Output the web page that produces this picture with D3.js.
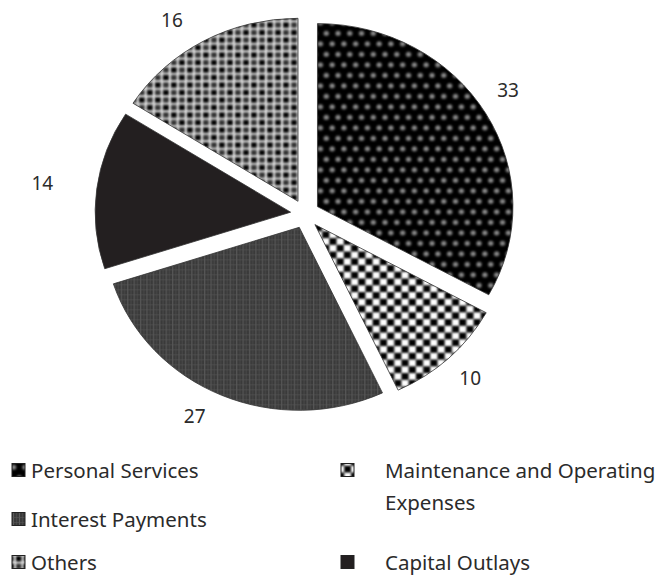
<!DOCTYPE html>
<html>
<head>
<meta charset="utf-8">
<script src="https://cdn.jsdelivr.net/npm/d3@7/dist/d3.min.js"></script>
<style>
  html, body { margin: 0; padding: 0; background: #fff; }
  svg { display: block; }
  text { font-family: "Noto Sans", "Open Sans", sans-serif; fill: #2b2b2b; }
</style>
</head>
<body>
<svg id="chart" width="668" height="578"></svg>
<script>
// Expenditure shares (percent), clockwise from 12 o'clock
const categories = [
  "Personal Services",
  "Maintenance and Operating Expenses",
  "Interest Payments",
  "Capital Outlays",
  "Others"
];
const values = [33, 10, 27, 14, 16];
const fillKeys = ["ps", "mo", "ip", "co", "ot"];

// Legend arrangement: [category index, column, row]
const legendSlots = [[0, 0, 0], [1, 1, 0], [2, 0, 1], [4, 0, 2], [3, 1, 2]];

// ---- layout ----
const W = 668, H = 578;
const cx = 305, cy = 214;
const radius = 183, stretchX = 1.068;
const explode = 14.5;
const labelDist = 218;
const labelNudge = {
  "Personal Services": [3, -6],
  "Maintenance and Operating Expenses": [6, -5],
  "Interest Payments": [-18, -11],
  "Capital Outlays": [-32, -2],
  "Others": [-21, 10]
};

const svg = d3.select("#chart");
const defs = svg.append("defs");

// Tiled fills; each tile is drawn with its neighbours so blurred edges wrap cleanly
function tile(id, w, h, bg, blur, draw) {
  const p = defs.append("pattern")
    .attr("id", id).attr("patternUnits", "userSpaceOnUse")
    .attr("width", w).attr("height", h);
  p.append("rect").attr("width", w).attr("height", h).attr("fill", bg);
  const f = defs.append("filter").attr("id", id + "-soft")
    .attr("filterUnits", "userSpaceOnUse")
    .attr("x", -w * 2).attr("y", -h * 2).attr("width", w * 5).attr("height", h * 5);
  f.append("feGaussianBlur").attr("stdDeviation", blur);
  const g = p.append("g").attr("filter", blur > 0 ? `url(#${id}-soft)` : null);
  for (const ox of [-w, 0, w]) for (const oy of [-h, 0, h]) {
    draw(g.append("g").attr("transform", `translate(${ox},${oy})`));
  }
}

// Personal Services: grey dots on black
tile("ps", 11, 21, "#000", 1.1, g => {
  [[2.75, 5.25], [8.25, 15.75]].forEach(([x, y]) =>
    g.append("circle").attr("cx", x).attr("cy", y).attr("r", 2.5).attr("fill", "#8c8c8c"));
});
// Maintenance and Operating Expenses: black/white checkerboard
tile("mo", 13.5, 13.5, "#fff", 0.9, g => {
  g.append("rect").attr("x", 0).attr("y", 0).attr("width", 6.75).attr("height", 6.75).attr("fill", "#000");
  g.append("rect").attr("x", 6.75).attr("y", 6.75).attr("width", 6.75).attr("height", 6.75).attr("fill", "#000");
});
// Interest Payments: dark grey with fine stripes
tile("ip", 6, 5, "#3a3a3a", 0.3, g => {
  g.append("rect").attr("x", 1).attr("y", 0).attr("width", 1).attr("height", 5).attr("fill", "#5c5c5c");
  g.append("rect").attr("x", 4).attr("y", 0).attr("width", 0.8).attr("height", 5).attr("fill", "#4c4c4c");
  g.append("rect").attr("x", 0).attr("y", 2).attr("width", 6).attr("height", 1).attr("fill", "#555").attr("opacity", 0.6);
});
// Others: plaid of dark squares between light lines
tile("ot", 15, 15, "#ececec", 0.8, g => {
  [[1, 1, "#000"], [8.5, 8.5, "#000"], [8.5, 1, "#333"], [1, 8.5, "#333"]].forEach(([x, y, c]) =>
    g.append("rect").attr("x", x).attr("y", y).attr("width", 5.5).attr("height", 5.5).attr("fill", c));
});

const fills = { ps: "url(#ps)", mo: "url(#mo)", ip: "url(#ip)", co: "#231f20", ot: "url(#ot)" };

const data = categories.map((c, i) => ({ category: c, value: values[i], key: fillKeys[i] }));
const pie = d3.pie().sort(null).value(d => d.value);
const arc = d3.arc().innerRadius(0).outerRadius(radius);
const arcs = pie(data);

const slices = svg.append("g").selectAll("g.slice").data(arcs).join("g")
  .attr("class", "slice")
  .attr("transform", d => {
    const a = (d.startAngle + d.endAngle) / 2;
    return `translate(${cx + explode * Math.sin(a)},${cy - explode * Math.cos(a)})`;
  });

slices.append("path")
  .attr("transform", `scale(${stretchX},1)`)
  .attr("d", arc)
  .attr("fill", d => fills[d.data.key])
  .attr("stroke", "#333")
  .attr("stroke-width", 0.8)
  .attr("vector-effect", "non-scaling-stroke");

// Value labels outside each slice
svg.append("g").selectAll("text").data(arcs).join("text")
  .attr("x", d => {
    const a = (d.startAngle + d.endAngle) / 2;
    const n = labelNudge[d.data.category] || [0, 0];
    return cx + (explode + labelDist) * Math.sin(a) + n[0];
  })
  .attr("y", d => {
    const a = (d.startAngle + d.endAngle) / 2;
    const n = labelNudge[d.data.category] || [0, 0];
    return cy - (explode + labelDist) * Math.cos(a) + n[1];
  })
  .attr("text-anchor", "middle")
  .attr("dominant-baseline", "central")
  .style("font-size", "19px")
  .text(d => d.data.value);

// Legend
const colX = [12, 341], textGap = [6, 31], rowY = [470, 519, 562];
const sw = 13, lineStep = 32;
const legend = svg.append("g");
legendSlots.forEach(([ci, col, row]) => {
  const x = colX[col], y = rowY[row];
  const tx = x + sw + textGap[col];
  legend.append("rect")
    .attr("x", x).attr("y", y - sw / 2).attr("width", sw).attr("height", sw)
    .attr("fill", fills[fillKeys[ci]]).attr("stroke", "#222").attr("stroke-width", 1);
  const t = legend.append("text")
    .attr("x", tx).attr("y", y)
    .attr("dominant-baseline", "central")
    .style("font-size", "20.5px");
  // wrap long entries onto a second line
  const words = categories[ci].split(" ");
  const maxW = W - tx - 1;
  let line = [];
  let ts = t.append("tspan").attr("x", tx);
  words.forEach(w => {
    line.push(w);
    ts.text(line.join(" "));
    if (ts.node().getComputedTextLength() > maxW && line.length > 1) {
      line.pop();
      ts.text(line.join(" "));
      line = [w];
      ts = t.append("tspan").attr("x", tx).attr("dy", lineStep).text(w);
    }
  });
});
</script>
</body>
</html>
